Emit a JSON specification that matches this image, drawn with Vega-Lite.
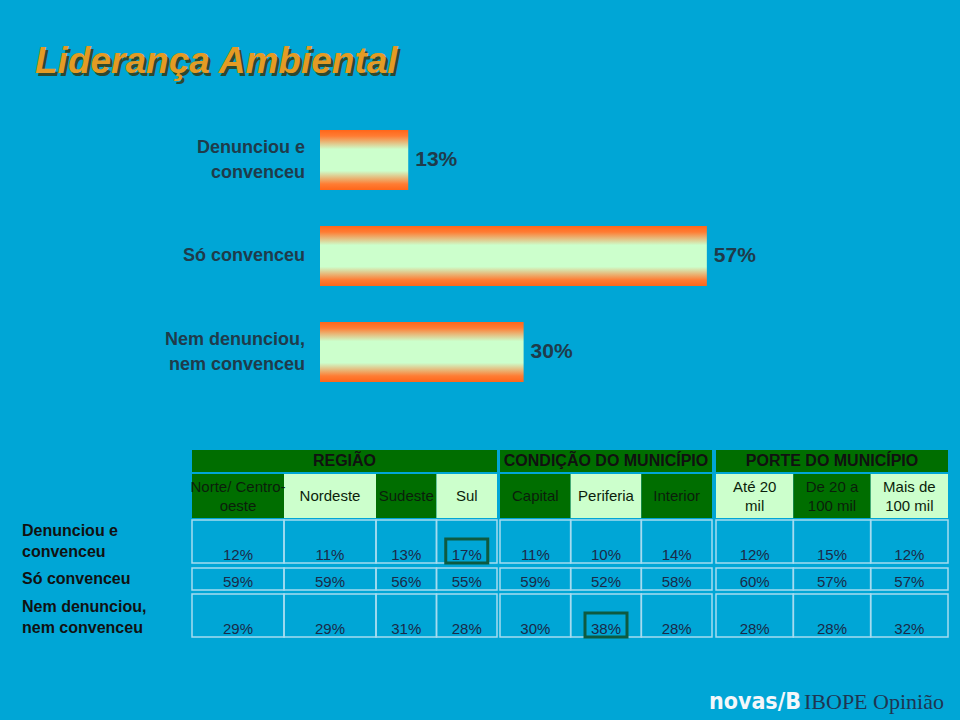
{
  "$schema": "https://vega.github.io/schema/vega-lite/v6.json",
  "width": 960,
  "height": 720,
  "padding": 0,
  "autosize": {"type": "none"},
  "background": "#00A6D6",
  "config": {"view": {"stroke": null}, "font": "Liberation Sans"},
  "datasets": {
    "titulo": [{"titulo": "Liderança Ambiental"}],
    "marca": [{"marca": "novas/B", "instituto": "IBOPE Opinião"}],
    "barras": [
      {"resp": "Denunciou e\nconvenceu", "pct": 0.13},
      {"resp": "Só convenceu", "pct": 0.57},
      {"resp": "Nem denunciou,\nnem convenceu", "pct": 0.30}
    ],
    "grupos": [
      {"grupo": "REGIÃO"},
      {"grupo": "CONDIÇÃO DO MUNICÍPIO"},
      {"grupo": "PORTE DO MUNICÍPIO"}
    ],
    "colunas": [
      {"grupo": "REGIÃO", "col": "Norte/ Centro-\noeste"},
      {"grupo": "REGIÃO", "col": "Nordeste"},
      {"grupo": "REGIÃO", "col": "Sudeste"},
      {"grupo": "REGIÃO", "col": "Sul"},
      {"grupo": "CONDIÇÃO DO MUNICÍPIO", "col": "Capital"},
      {"grupo": "CONDIÇÃO DO MUNICÍPIO", "col": "Periferia"},
      {"grupo": "CONDIÇÃO DO MUNICÍPIO", "col": "Interior"},
      {"grupo": "PORTE DO MUNICÍPIO", "col": "Até 20\nmil"},
      {"grupo": "PORTE DO MUNICÍPIO", "col": "De 20 a\n100 mil"},
      {"grupo": "PORTE DO MUNICÍPIO", "col": "Mais de\n100 mil"}
    ],
    "tabela": [
      {"resp": "Denunciou e\nconvenceu", "col": "Norte/ Centro-\noeste", "pct": 0.12},
      {"resp": "Denunciou e\nconvenceu", "col": "Nordeste", "pct": 0.11},
      {"resp": "Denunciou e\nconvenceu", "col": "Sudeste", "pct": 0.13},
      {"resp": "Denunciou e\nconvenceu", "col": "Sul", "pct": 0.17, "destaque": true},
      {"resp": "Denunciou e\nconvenceu", "col": "Capital", "pct": 0.11},
      {"resp": "Denunciou e\nconvenceu", "col": "Periferia", "pct": 0.10},
      {"resp": "Denunciou e\nconvenceu", "col": "Interior", "pct": 0.14},
      {"resp": "Denunciou e\nconvenceu", "col": "Até 20\nmil", "pct": 0.12},
      {"resp": "Denunciou e\nconvenceu", "col": "De 20 a\n100 mil", "pct": 0.15},
      {"resp": "Denunciou e\nconvenceu", "col": "Mais de\n100 mil", "pct": 0.12},
      {"resp": "Só convenceu", "col": "Norte/ Centro-\noeste", "pct": 0.59},
      {"resp": "Só convenceu", "col": "Nordeste", "pct": 0.59},
      {"resp": "Só convenceu", "col": "Sudeste", "pct": 0.56},
      {"resp": "Só convenceu", "col": "Sul", "pct": 0.55},
      {"resp": "Só convenceu", "col": "Capital", "pct": 0.59},
      {"resp": "Só convenceu", "col": "Periferia", "pct": 0.52},
      {"resp": "Só convenceu", "col": "Interior", "pct": 0.58},
      {"resp": "Só convenceu", "col": "Até 20\nmil", "pct": 0.60},
      {"resp": "Só convenceu", "col": "De 20 a\n100 mil", "pct": 0.57},
      {"resp": "Só convenceu", "col": "Mais de\n100 mil", "pct": 0.57},
      {"resp": "Nem denunciou,\nnem convenceu", "col": "Norte/ Centro-\noeste", "pct": 0.29},
      {"resp": "Nem denunciou,\nnem convenceu", "col": "Nordeste", "pct": 0.29},
      {"resp": "Nem denunciou,\nnem convenceu", "col": "Sudeste", "pct": 0.31},
      {"resp": "Nem denunciou,\nnem convenceu", "col": "Sul", "pct": 0.28},
      {"resp": "Nem denunciou,\nnem convenceu", "col": "Capital", "pct": 0.30},
      {"resp": "Nem denunciou,\nnem convenceu", "col": "Periferia", "pct": 0.38, "destaque": true},
      {"resp": "Nem denunciou,\nnem convenceu", "col": "Interior", "pct": 0.28},
      {"resp": "Nem denunciou,\nnem convenceu", "col": "Até 20\nmil", "pct": 0.28},
      {"resp": "Nem denunciou,\nnem convenceu", "col": "De 20 a\n100 mil", "pct": 0.28},
      {"resp": "Nem denunciou,\nnem convenceu", "col": "Mais de\n100 mil", "pct": 0.32}
    ]
  },
  "resolve": {"scale": {"x": "independent", "y": "independent"}},
  "layer": [
    {
      "data": {"name": "titulo"},
      "encoding": {
        "x": {"field": "titulo", "type": "nominal", "axis": null, "scale": {"type": "point", "range": [35, 35], "padding": 0}},
        "y": {"field": "titulo", "type": "nominal", "axis": null, "scale": {"type": "point", "range": [73, 73], "padding": 0}},
        "text": {"field": "titulo"}
      },
      "layer": [
        {"mark": {"type": "text", "align": "left", "baseline": "alphabetic", "fontSize": 37, "fontWeight": "bold", "fontStyle": "italic", "color": "#2C4A30", "dx": 2.5, "dy": 2.5}},
        {"mark": {"type": "text", "align": "left", "baseline": "alphabetic", "fontSize": 37, "fontWeight": "bold", "fontStyle": "italic", "color": "#E49B24"}}
      ]
    },
    {
      "data": {"name": "barras"},
      "encoding": {
        "y": {"field": "resp", "type": "nominal", "axis": null, "sort": null, "scale": {"domain": ["Denunciou e\nconvenceu", "Só convenceu", "Nem denunciou,\nnem convenceu"], "range": [130, 382], "paddingInner": 0.375, "paddingOuter": 0}}
      },
      "layer": [
        {
          "mark": {"type": "bar", "color": {"gradient": "linear", "x1": 0, "y1": 0, "x2": 0, "y2": 1, "stops": [
            {"offset": 0, "color": "#FF661A"},
            {"offset": 0.1, "color": "#FF7C33"},
            {"offset": 0.32, "color": "#CCFFCC"},
            {"offset": 0.68, "color": "#CCFFCC"},
            {"offset": 0.9, "color": "#FF7C33"},
            {"offset": 1, "color": "#FF661A"}
          ]}},
          "encoding": {"x": {"field": "pct", "type": "quantitative", "axis": null, "scale": {"domain": [0, 0.943], "range": [320, 960], "nice": false, "zero": true}}}
        },
        {
          "mark": {"type": "text", "align": "left", "baseline": "middle", "dx": 7, "fontSize": 21, "fontWeight": "bold", "color": "#1F3B4B"},
          "encoding": {
            "x": {"field": "pct", "type": "quantitative", "axis": null, "scale": {"domain": [0, 0.943], "range": [320, 960], "nice": false, "zero": true}},
            "text": {"field": "pct", "type": "quantitative", "format": ".0%"}
          }
        },
        {
          "transform": [{"filter": "indexof(datum.resp, '\\n') < 0"}],
          "mark": {"type": "text", "align": "right", "baseline": "middle", "dx": -15, "fontSize": 18, "fontWeight": "bold", "lineBreak": "\n", "lineHeight": 25, "color": "#1F3B4B"},
          "encoding": {
            "x": {"datum": 0, "type": "quantitative", "axis": null, "scale": {"domain": [0, 0.943], "range": [320, 960], "nice": false, "zero": true}},
            "text": {"field": "resp"}
          }
        },
        {
          "transform": [{"filter": "indexof(datum.resp, '\\n') >= 0"}],
          "mark": {"type": "text", "align": "right", "baseline": "middle", "dx": -15, "dy": -12.5, "fontSize": 18, "fontWeight": "bold", "lineBreak": "\n", "lineHeight": 25, "color": "#1F3B4B"},
          "encoding": {
            "x": {"datum": 0, "type": "quantitative", "axis": null, "scale": {"domain": [0, 0.943], "range": [320, 960], "nice": false, "zero": true}},
            "text": {"field": "resp"}
          }
        }
      ]
    },
    {
      "data": {"name": "barras"},
      "encoding": {
        "x": {"field": "resp", "type": "nominal", "axis": null, "scale": {"type": "point", "range": [22, 22], "padding": 0}},
        "y": {"field": "resp", "type": "nominal", "axis": null, "scale": {"domain": ["Denunciou e\nconvenceu", "Só convenceu", "Nem denunciou,\nnem convenceu"], "range": [522, 636], "paddingInner": 0, "paddingOuter": 0}},
        "text": {"field": "resp"}
      },
      "layer": [
        {"transform": [{"filter": "indexof(datum.resp, '\\n') < 0"}], "mark": {"type": "text", "align": "left", "baseline": "middle", "fontSize": 16, "fontWeight": "bold", "lineBreak": "\n", "lineHeight": 21, "color": "#111111"}},
        {"transform": [{"filter": "indexof(datum.resp, '\\n') >= 0"}], "mark": {"type": "text", "align": "left", "baseline": "middle", "dy": -10.5, "fontSize": 16, "fontWeight": "bold", "lineBreak": "\n", "lineHeight": 21, "color": "#111111"}}
      ]
    },
    {
      "data": {"name": "grupos"},
      "transform": [{"filter": {"field": "grupo", "equal": "REGIÃO"}}],
      "encoding": {
        "x": {"field": "grupo", "type": "nominal", "axis": null, "scale": {"domain": ["REGIÃO"], "range": [192, 497], "paddingInner": 0, "paddingOuter": 0}},
        "y": {"field": "grupo", "type": "nominal", "axis": null, "scale": {"domain": ["REGIÃO"], "range": [450, 472], "paddingInner": 0, "paddingOuter": 0}}
      },
      "layer": [
        {"mark": {"type": "rect", "color": "#006E00"}},
        {"mark": {"type": "text", "fontSize": 16, "fontWeight": "bold", "color": "#111111", "baseline": "middle"}, "encoding": {"text": {"field": "grupo"}}}
      ]
    },
    {
      "data": {"name": "grupos"},
      "transform": [{"filter": {"field": "grupo", "equal": "CONDIÇÃO DO MUNICÍPIO"}}],
      "encoding": {
        "x": {"field": "grupo", "type": "nominal", "axis": null, "scale": {"domain": ["CONDIÇÃO DO MUNICÍPIO"], "range": [500, 712], "paddingInner": 0, "paddingOuter": 0}},
        "y": {"field": "grupo", "type": "nominal", "axis": null, "scale": {"domain": ["CONDIÇÃO DO MUNICÍPIO"], "range": [450, 472], "paddingInner": 0, "paddingOuter": 0}}
      },
      "layer": [
        {"mark": {"type": "rect", "color": "#006E00"}},
        {"mark": {"type": "text", "fontSize": 16, "fontWeight": "bold", "color": "#111111", "baseline": "middle"}, "encoding": {"text": {"field": "grupo"}}}
      ]
    },
    {
      "data": {"name": "grupos"},
      "transform": [{"filter": {"field": "grupo", "equal": "PORTE DO MUNICÍPIO"}}],
      "encoding": {
        "x": {"field": "grupo", "type": "nominal", "axis": null, "scale": {"domain": ["PORTE DO MUNICÍPIO"], "range": [716, 948], "paddingInner": 0, "paddingOuter": 0}},
        "y": {"field": "grupo", "type": "nominal", "axis": null, "scale": {"domain": ["PORTE DO MUNICÍPIO"], "range": [450, 472], "paddingInner": 0, "paddingOuter": 0}}
      },
      "layer": [
        {"mark": {"type": "rect", "color": "#006E00"}},
        {"mark": {"type": "text", "fontSize": 16, "fontWeight": "bold", "color": "#111111", "baseline": "middle"}, "encoding": {"text": {"field": "grupo"}}}
      ]
    },
    {
      "data": {"name": "colunas"},
      "encoding": {
        "x": {"field": "col", "type": "nominal", "axis": null, "scale": {"domain": ["Norte/ Centro-\noeste", "Nordeste"], "range": [192, 376], "paddingInner": 0, "paddingOuter": 0}},
        "y": {"field": "grupo", "type": "nominal", "axis": null, "scale": {"domain": ["REGIÃO"], "range": [474, 518], "paddingInner": 0, "paddingOuter": 0}}
      },
      "transform": [{"filter": {"field": "col", "oneOf": ["Norte/ Centro-\noeste", "Nordeste"]}}],
      "layer": [
        {"mark": {"type": "rect"}, "encoding": {"color": {"field": "col", "type": "nominal", "legend": null, "scale": {"domain": ["Norte/ Centro-\noeste", "Nordeste", "Sudeste", "Sul", "Capital", "Periferia", "Interior", "Até 20\nmil", "De 20 a\n100 mil", "Mais de\n100 mil"], "range": ["#006E00", "#CCFFCC", "#006E00", "#CCFFCC", "#006E00", "#CCFFCC", "#006E00", "#CCFFCC", "#006E00", "#CCFFCC"]}}}},
        {"transform": [{"filter": "indexof(datum.col, '\\n') < 0"}], "mark": {"type": "text", "fontSize": 15, "lineBreak": "\n", "lineHeight": 19, "color": "#0B1E0B", "baseline": "middle"}, "encoding": {"text": {"field": "col"}}},
        {"transform": [{"filter": "indexof(datum.col, '\\n') >= 0"}], "mark": {"type": "text", "fontSize": 15, "lineBreak": "\n", "lineHeight": 19, "dy": -9.5, "color": "#0B1E0B", "baseline": "middle"}, "encoding": {"text": {"field": "col"}}}
      ]
    },
    {
      "data": {"name": "colunas"},
      "encoding": {
        "x": {"field": "col", "type": "nominal", "axis": null, "scale": {"domain": ["Sudeste", "Sul"], "range": [376, 497], "paddingInner": 0, "paddingOuter": 0}},
        "y": {"field": "grupo", "type": "nominal", "axis": null, "scale": {"domain": ["REGIÃO"], "range": [474, 518], "paddingInner": 0, "paddingOuter": 0}}
      },
      "transform": [{"filter": {"field": "col", "oneOf": ["Sudeste", "Sul"]}}],
      "layer": [
        {"mark": {"type": "rect"}, "encoding": {"color": {"field": "col", "type": "nominal", "legend": null, "scale": {"domain": ["Norte/ Centro-\noeste", "Nordeste", "Sudeste", "Sul", "Capital", "Periferia", "Interior", "Até 20\nmil", "De 20 a\n100 mil", "Mais de\n100 mil"], "range": ["#006E00", "#CCFFCC", "#006E00", "#CCFFCC", "#006E00", "#CCFFCC", "#006E00", "#CCFFCC", "#006E00", "#CCFFCC"]}}}},
        {"mark": {"type": "text", "fontSize": 15, "lineBreak": "\n", "lineHeight": 19, "color": "#0B1E0B", "baseline": "middle"}, "encoding": {"text": {"field": "col"}}}
      ]
    },
    {
      "data": {"name": "colunas"},
      "encoding": {
        "x": {"field": "col", "type": "nominal", "axis": null, "scale": {"domain": ["Capital", "Periferia", "Interior"], "range": [500, 712], "paddingInner": 0, "paddingOuter": 0}},
        "y": {"field": "grupo", "type": "nominal", "axis": null, "scale": {"domain": ["CONDIÇÃO DO MUNICÍPIO"], "range": [474, 518], "paddingInner": 0, "paddingOuter": 0}}
      },
      "transform": [{"filter": {"field": "grupo", "equal": "CONDIÇÃO DO MUNICÍPIO"}}],
      "layer": [
        {"mark": {"type": "rect"}, "encoding": {"color": {"field": "col", "type": "nominal", "legend": null, "scale": {"domain": ["Norte/ Centro-\noeste", "Nordeste", "Sudeste", "Sul", "Capital", "Periferia", "Interior", "Até 20\nmil", "De 20 a\n100 mil", "Mais de\n100 mil"], "range": ["#006E00", "#CCFFCC", "#006E00", "#CCFFCC", "#006E00", "#CCFFCC", "#006E00", "#CCFFCC", "#006E00", "#CCFFCC"]}}}},
        {"mark": {"type": "text", "fontSize": 15, "lineBreak": "\n", "lineHeight": 19, "color": "#0B1E0B", "baseline": "middle"}, "encoding": {"text": {"field": "col"}}}
      ]
    },
    {
      "data": {"name": "colunas"},
      "encoding": {
        "x": {"field": "col", "type": "nominal", "axis": null, "scale": {"domain": ["Até 20\nmil", "De 20 a\n100 mil", "Mais de\n100 mil"], "range": [716, 948], "paddingInner": 0, "paddingOuter": 0}},
        "y": {"field": "grupo", "type": "nominal", "axis": null, "scale": {"domain": ["PORTE DO MUNICÍPIO"], "range": [474, 518], "paddingInner": 0, "paddingOuter": 0}}
      },
      "transform": [{"filter": {"field": "grupo", "equal": "PORTE DO MUNICÍPIO"}}],
      "layer": [
        {"mark": {"type": "rect"}, "encoding": {"color": {"field": "col", "type": "nominal", "legend": null, "scale": {"domain": ["Norte/ Centro-\noeste", "Nordeste", "Sudeste", "Sul", "Capital", "Periferia", "Interior", "Até 20\nmil", "De 20 a\n100 mil", "Mais de\n100 mil"], "range": ["#006E00", "#CCFFCC", "#006E00", "#CCFFCC", "#006E00", "#CCFFCC", "#006E00", "#CCFFCC", "#006E00", "#CCFFCC"]}}}},
        {"mark": {"type": "text", "fontSize": 15, "lineBreak": "\n", "lineHeight": 19, "dy": -9.5, "color": "#0B1E0B", "baseline": "middle"}, "encoding": {"text": {"field": "col"}}}
      ]
    },

    {
      "data": {"name": "tabela"},
      "transform": [{"filter": {"and": [{"field": "resp", "equal": "Denunciou e\nconvenceu"}, {"field": "col", "oneOf": ["Norte/ Centro-\noeste", "Nordeste"]}]}}],
      "encoding": {"x": {"field": "col", "type": "nominal", "axis": null, "scale": {"domain": ["Norte/ Centro-\noeste", "Nordeste"], "range": [192, 376], "paddingInner": 0, "paddingOuter": 0}}},
      "layer": [
        {"mark": {"type": "rect", "fill": "transparent", "stroke": "#A5DBF0", "strokeWidth": 1.5}, "encoding": {"y": {"field": "resp", "type": "nominal", "axis": null, "scale": {"domain": ["Denunciou e\nconvenceu"], "range": [520, 563], "paddingInner": 0, "paddingOuter": 0}}}},
        {"mark": {"type": "text", "fontSize": 15, "color": "#1B2A48", "baseline": "alphabetic", "dy": -3.5}, "encoding": {"y": {"field": "resp", "type": "nominal", "axis": null, "bandPosition": 1, "scale": {"domain": ["Denunciou e\nconvenceu"], "range": [520, 563], "paddingInner": 0, "paddingOuter": 0}}, "text": {"field": "pct", "type": "quantitative", "format": ".0%"}}}
      ]
    },
    {
      "data": {"name": "tabela"},
      "transform": [{"filter": {"and": [{"field": "resp", "equal": "Só convenceu"}, {"field": "col", "oneOf": ["Norte/ Centro-\noeste", "Nordeste"]}]}}],
      "encoding": {"x": {"field": "col", "type": "nominal", "axis": null, "scale": {"domain": ["Norte/ Centro-\noeste", "Nordeste"], "range": [192, 376], "paddingInner": 0, "paddingOuter": 0}}},
      "layer": [
        {"mark": {"type": "rect", "fill": "transparent", "stroke": "#A5DBF0", "strokeWidth": 1.5}, "encoding": {"y": {"field": "resp", "type": "nominal", "axis": null, "scale": {"domain": ["Só convenceu"], "range": [568, 590], "paddingInner": 0, "paddingOuter": 0}}}},
        {"mark": {"type": "text", "fontSize": 15, "color": "#1B2A48", "baseline": "alphabetic", "dy": -3.5}, "encoding": {"y": {"field": "resp", "type": "nominal", "axis": null, "bandPosition": 1, "scale": {"domain": ["Só convenceu"], "range": [568, 590], "paddingInner": 0, "paddingOuter": 0}}, "text": {"field": "pct", "type": "quantitative", "format": ".0%"}}}
      ]
    },
    {
      "data": {"name": "tabela"},
      "transform": [{"filter": {"and": [{"field": "resp", "equal": "Nem denunciou,\nnem convenceu"}, {"field": "col", "oneOf": ["Norte/ Centro-\noeste", "Nordeste"]}]}}],
      "encoding": {"x": {"field": "col", "type": "nominal", "axis": null, "scale": {"domain": ["Norte/ Centro-\noeste", "Nordeste"], "range": [192, 376], "paddingInner": 0, "paddingOuter": 0}}},
      "layer": [
        {"mark": {"type": "rect", "fill": "transparent", "stroke": "#A5DBF0", "strokeWidth": 1.5}, "encoding": {"y": {"field": "resp", "type": "nominal", "axis": null, "scale": {"domain": ["Nem denunciou,\nnem convenceu"], "range": [594, 637], "paddingInner": 0, "paddingOuter": 0}}}},
        {"mark": {"type": "text", "fontSize": 15, "color": "#1B2A48", "baseline": "alphabetic", "dy": -3.5}, "encoding": {"y": {"field": "resp", "type": "nominal", "axis": null, "bandPosition": 1, "scale": {"domain": ["Nem denunciou,\nnem convenceu"], "range": [594, 637], "paddingInner": 0, "paddingOuter": 0}}, "text": {"field": "pct", "type": "quantitative", "format": ".0%"}}}
      ]
    },

    {
      "data": {"name": "tabela"},
      "transform": [{"filter": {"and": [{"field": "resp", "equal": "Denunciou e\nconvenceu"}, {"field": "col", "oneOf": ["Sudeste", "Sul"]}]}}],
      "encoding": {"x": {"field": "col", "type": "nominal", "axis": null, "scale": {"domain": ["Sudeste", "Sul"], "range": [376, 497], "paddingInner": 0, "paddingOuter": 0}}},
      "layer": [
        {"mark": {"type": "rect", "fill": "transparent", "stroke": "#A5DBF0", "strokeWidth": 1.5}, "encoding": {"y": {"field": "resp", "type": "nominal", "axis": null, "scale": {"domain": ["Denunciou e\nconvenceu"], "range": [520, 563], "paddingInner": 0, "paddingOuter": 0}}}},
        {"mark": {"type": "text", "fontSize": 15, "color": "#1B2A48", "baseline": "alphabetic", "dy": -3.5}, "encoding": {"y": {"field": "resp", "type": "nominal", "axis": null, "bandPosition": 1, "scale": {"domain": ["Denunciou e\nconvenceu"], "range": [520, 563], "paddingInner": 0, "paddingOuter": 0}}, "text": {"field": "pct", "type": "quantitative", "format": ".0%"}}},
        {"transform": [{"filter": "datum.destaque === true"}], "mark": {"type": "point", "shape": "M-1,-0.57H1V0.57H-1Z", "size": 1764, "filled": false, "stroke": "#0E5A40", "strokeWidth": 3, "opacity": 1}, "encoding": {"y": {"field": "resp", "type": "nominal", "axis": null, "bandPosition": 0.72, "scale": {"domain": ["Denunciou e\nconvenceu"], "range": [520, 563], "paddingInner": 0, "paddingOuter": 0}}}}
      ]
    },
    {
      "data": {"name": "tabela"},
      "transform": [{"filter": {"and": [{"field": "resp", "equal": "Só convenceu"}, {"field": "col", "oneOf": ["Sudeste", "Sul"]}]}}],
      "encoding": {"x": {"field": "col", "type": "nominal", "axis": null, "scale": {"domain": ["Sudeste", "Sul"], "range": [376, 497], "paddingInner": 0, "paddingOuter": 0}}},
      "layer": [
        {"mark": {"type": "rect", "fill": "transparent", "stroke": "#A5DBF0", "strokeWidth": 1.5}, "encoding": {"y": {"field": "resp", "type": "nominal", "axis": null, "scale": {"domain": ["Só convenceu"], "range": [568, 590], "paddingInner": 0, "paddingOuter": 0}}}},
        {"mark": {"type": "text", "fontSize": 15, "color": "#1B2A48", "baseline": "alphabetic", "dy": -3.5}, "encoding": {"y": {"field": "resp", "type": "nominal", "axis": null, "bandPosition": 1, "scale": {"domain": ["Só convenceu"], "range": [568, 590], "paddingInner": 0, "paddingOuter": 0}}, "text": {"field": "pct", "type": "quantitative", "format": ".0%"}}}
      ]
    },
    {
      "data": {"name": "tabela"},
      "transform": [{"filter": {"and": [{"field": "resp", "equal": "Nem denunciou,\nnem convenceu"}, {"field": "col", "oneOf": ["Sudeste", "Sul"]}]}}],
      "encoding": {"x": {"field": "col", "type": "nominal", "axis": null, "scale": {"domain": ["Sudeste", "Sul"], "range": [376, 497], "paddingInner": 0, "paddingOuter": 0}}},
      "layer": [
        {"mark": {"type": "rect", "fill": "transparent", "stroke": "#A5DBF0", "strokeWidth": 1.5}, "encoding": {"y": {"field": "resp", "type": "nominal", "axis": null, "scale": {"domain": ["Nem denunciou,\nnem convenceu"], "range": [594, 637], "paddingInner": 0, "paddingOuter": 0}}}},
        {"mark": {"type": "text", "fontSize": 15, "color": "#1B2A48", "baseline": "alphabetic", "dy": -3.5}, "encoding": {"y": {"field": "resp", "type": "nominal", "axis": null, "bandPosition": 1, "scale": {"domain": ["Nem denunciou,\nnem convenceu"], "range": [594, 637], "paddingInner": 0, "paddingOuter": 0}}, "text": {"field": "pct", "type": "quantitative", "format": ".0%"}}}
      ]
    },

    {
      "data": {"name": "tabela"},
      "transform": [{"filter": {"and": [{"field": "resp", "equal": "Denunciou e\nconvenceu"}, {"field": "col", "oneOf": ["Capital", "Periferia", "Interior"]}]}}],
      "encoding": {"x": {"field": "col", "type": "nominal", "axis": null, "scale": {"domain": ["Capital", "Periferia", "Interior"], "range": [500, 712], "paddingInner": 0, "paddingOuter": 0}}},
      "layer": [
        {"mark": {"type": "rect", "fill": "transparent", "stroke": "#A5DBF0", "strokeWidth": 1.5}, "encoding": {"y": {"field": "resp", "type": "nominal", "axis": null, "scale": {"domain": ["Denunciou e\nconvenceu"], "range": [520, 563], "paddingInner": 0, "paddingOuter": 0}}}},
        {"mark": {"type": "text", "fontSize": 15, "color": "#1B2A48", "baseline": "alphabetic", "dy": -3.5}, "encoding": {"y": {"field": "resp", "type": "nominal", "axis": null, "bandPosition": 1, "scale": {"domain": ["Denunciou e\nconvenceu"], "range": [520, 563], "paddingInner": 0, "paddingOuter": 0}}, "text": {"field": "pct", "type": "quantitative", "format": ".0%"}}}
      ]
    },
    {
      "data": {"name": "tabela"},
      "transform": [{"filter": {"and": [{"field": "resp", "equal": "Só convenceu"}, {"field": "col", "oneOf": ["Capital", "Periferia", "Interior"]}]}}],
      "encoding": {"x": {"field": "col", "type": "nominal", "axis": null, "scale": {"domain": ["Capital", "Periferia", "Interior"], "range": [500, 712], "paddingInner": 0, "paddingOuter": 0}}},
      "layer": [
        {"mark": {"type": "rect", "fill": "transparent", "stroke": "#A5DBF0", "strokeWidth": 1.5}, "encoding": {"y": {"field": "resp", "type": "nominal", "axis": null, "scale": {"domain": ["Só convenceu"], "range": [568, 590], "paddingInner": 0, "paddingOuter": 0}}}},
        {"mark": {"type": "text", "fontSize": 15, "color": "#1B2A48", "baseline": "alphabetic", "dy": -3.5}, "encoding": {"y": {"field": "resp", "type": "nominal", "axis": null, "bandPosition": 1, "scale": {"domain": ["Só convenceu"], "range": [568, 590], "paddingInner": 0, "paddingOuter": 0}}, "text": {"field": "pct", "type": "quantitative", "format": ".0%"}}}
      ]
    },
    {
      "data": {"name": "tabela"},
      "transform": [{"filter": {"and": [{"field": "resp", "equal": "Nem denunciou,\nnem convenceu"}, {"field": "col", "oneOf": ["Capital", "Periferia", "Interior"]}]}}],
      "encoding": {"x": {"field": "col", "type": "nominal", "axis": null, "scale": {"domain": ["Capital", "Periferia", "Interior"], "range": [500, 712], "paddingInner": 0, "paddingOuter": 0}}},
      "layer": [
        {"mark": {"type": "rect", "fill": "transparent", "stroke": "#A5DBF0", "strokeWidth": 1.5}, "encoding": {"y": {"field": "resp", "type": "nominal", "axis": null, "scale": {"domain": ["Nem denunciou,\nnem convenceu"], "range": [594, 637], "paddingInner": 0, "paddingOuter": 0}}}},
        {"mark": {"type": "text", "fontSize": 15, "color": "#1B2A48", "baseline": "alphabetic", "dy": -3.5}, "encoding": {"y": {"field": "resp", "type": "nominal", "axis": null, "bandPosition": 1, "scale": {"domain": ["Nem denunciou,\nnem convenceu"], "range": [594, 637], "paddingInner": 0, "paddingOuter": 0}}, "text": {"field": "pct", "type": "quantitative", "format": ".0%"}}},
        {"transform": [{"filter": "datum.destaque === true"}], "mark": {"type": "point", "shape": "M-1,-0.57H1V0.57H-1Z", "size": 1764, "filled": false, "stroke": "#0E5A40", "strokeWidth": 3, "opacity": 1}, "encoding": {"y": {"field": "resp", "type": "nominal", "axis": null, "bandPosition": 0.72, "scale": {"domain": ["Nem denunciou,\nnem convenceu"], "range": [594, 637], "paddingInner": 0, "paddingOuter": 0}}}}
      ]
    },

    {
      "data": {"name": "tabela"},
      "transform": [{"filter": {"and": [{"field": "resp", "equal": "Denunciou e\nconvenceu"}, {"field": "col", "oneOf": ["Até 20\nmil", "De 20 a\n100 mil", "Mais de\n100 mil"]}]}}],
      "encoding": {"x": {"field": "col", "type": "nominal", "axis": null, "scale": {"domain": ["Até 20\nmil", "De 20 a\n100 mil", "Mais de\n100 mil"], "range": [716, 948], "paddingInner": 0, "paddingOuter": 0}}},
      "layer": [
        {"mark": {"type": "rect", "fill": "transparent", "stroke": "#A5DBF0", "strokeWidth": 1.5}, "encoding": {"y": {"field": "resp", "type": "nominal", "axis": null, "scale": {"domain": ["Denunciou e\nconvenceu"], "range": [520, 563], "paddingInner": 0, "paddingOuter": 0}}}},
        {"mark": {"type": "text", "fontSize": 15, "color": "#1B2A48", "baseline": "alphabetic", "dy": -3.5}, "encoding": {"y": {"field": "resp", "type": "nominal", "axis": null, "bandPosition": 1, "scale": {"domain": ["Denunciou e\nconvenceu"], "range": [520, 563], "paddingInner": 0, "paddingOuter": 0}}, "text": {"field": "pct", "type": "quantitative", "format": ".0%"}}}
      ]
    },
    {
      "data": {"name": "tabela"},
      "transform": [{"filter": {"and": [{"field": "resp", "equal": "Só convenceu"}, {"field": "col", "oneOf": ["Até 20\nmil", "De 20 a\n100 mil", "Mais de\n100 mil"]}]}}],
      "encoding": {"x": {"field": "col", "type": "nominal", "axis": null, "scale": {"domain": ["Até 20\nmil", "De 20 a\n100 mil", "Mais de\n100 mil"], "range": [716, 948], "paddingInner": 0, "paddingOuter": 0}}},
      "layer": [
        {"mark": {"type": "rect", "fill": "transparent", "stroke": "#A5DBF0", "strokeWidth": 1.5}, "encoding": {"y": {"field": "resp", "type": "nominal", "axis": null, "scale": {"domain": ["Só convenceu"], "range": [568, 590], "paddingInner": 0, "paddingOuter": 0}}}},
        {"mark": {"type": "text", "fontSize": 15, "color": "#1B2A48", "baseline": "alphabetic", "dy": -3.5}, "encoding": {"y": {"field": "resp", "type": "nominal", "axis": null, "bandPosition": 1, "scale": {"domain": ["Só convenceu"], "range": [568, 590], "paddingInner": 0, "paddingOuter": 0}}, "text": {"field": "pct", "type": "quantitative", "format": ".0%"}}}
      ]
    },
    {
      "data": {"name": "tabela"},
      "transform": [{"filter": {"and": [{"field": "resp", "equal": "Nem denunciou,\nnem convenceu"}, {"field": "col", "oneOf": ["Até 20\nmil", "De 20 a\n100 mil", "Mais de\n100 mil"]}]}}],
      "encoding": {"x": {"field": "col", "type": "nominal", "axis": null, "scale": {"domain": ["Até 20\nmil", "De 20 a\n100 mil", "Mais de\n100 mil"], "range": [716, 948], "paddingInner": 0, "paddingOuter": 0}}},
      "layer": [
        {"mark": {"type": "rect", "fill": "transparent", "stroke": "#A5DBF0", "strokeWidth": 1.5}, "encoding": {"y": {"field": "resp", "type": "nominal", "axis": null, "scale": {"domain": ["Nem denunciou,\nnem convenceu"], "range": [594, 637], "paddingInner": 0, "paddingOuter": 0}}}},
        {"mark": {"type": "text", "fontSize": 15, "color": "#1B2A48", "baseline": "alphabetic", "dy": -3.5}, "encoding": {"y": {"field": "resp", "type": "nominal", "axis": null, "bandPosition": 1, "scale": {"domain": ["Nem denunciou,\nnem convenceu"], "range": [594, 637], "paddingInner": 0, "paddingOuter": 0}}, "text": {"field": "pct", "type": "quantitative", "format": ".0%"}}}
      ]
    },

    {
      "data": {"name": "marca"},
      "encoding": {
        "x": {"field": "marca", "type": "nominal", "axis": null, "scale": {"type": "point", "range": [801, 801], "padding": 0}},
        "y": {"field": "marca", "type": "nominal", "axis": null, "scale": {"type": "point", "range": [709, 709], "padding": 0}}
      },
      "layer": [
        {"mark": {"type": "text", "align": "right", "baseline": "alphabetic", "font": "DejaVu Sans Condensed", "fontSize": 23, "fontWeight": "bold", "color": "#F4F7FA"}, "encoding": {"text": {"field": "marca"}}},
        {"mark": {"type": "text", "align": "left", "baseline": "alphabetic", "dx": 3, "font": "Liberation Serif", "fontSize": 22, "color": "#1F3552"}, "encoding": {"text": {"field": "instituto"}}}
      ]
    }
  ]
}
